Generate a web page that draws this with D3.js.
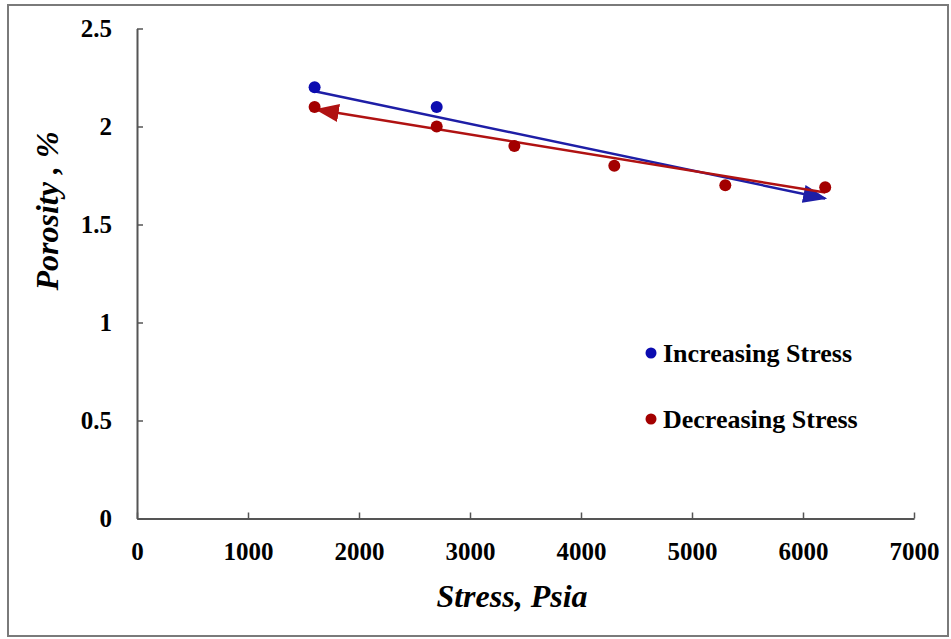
<!DOCTYPE html>
<html lang="en">
<head>
    <meta charset="UTF-8">
    <title>Porosity vs Stress</title>
    <script src="https://cdn.jsdelivr.net/npm/d3@7"></script>
    <style>
        body { margin: 0; background: #fff; }
        text { font-family: "Liberation Serif", "Times New Roman", serif; font-weight: bold; fill: #000; }
    </style>
</head>
<body>
<svg width="951" height="639"></svg>
<script>

    // data
    const increasingStress = [1600, 2700]
    const increasingPorosity = [2.2, 2.1]
    const decreasingStress = [1600, 2700, 3400, 4300, 5300, 6200]
    const decreasingPorosity = [2.1, 2.0, 1.9, 1.8, 1.7, 1.69]
    // trend arrows: start -> tip
    const increasingTrend = [[1600, 2.18], [6200, 1.633]]
    const decreasingTrend = [[6200, 1.663], [1620, 2.087]]

    const xTicks = [0, 1000, 2000, 3000, 4000, 5000, 6000, 7000]
    const yTicks = [0, 0.5, 1, 1.5, 2, 2.5]
    const seriesNames = ["Increasing Stress", "Decreasing Stress"]

    const blue = "#0c0cb0", blueLine = "#1e1ea6"
    const red = "#a30000", redLine = "#b01212"

    const svg = d3.select("svg")

    // outer frame
    svg.append("rect")
        .attr("x", 8).attr("y", 5)
        .attr("width", 940).attr("height", 631)
        .attr("fill", "none")
        .attr("stroke", "#7a7a7a")
        .attr("stroke-width", 2)

    const x = d3.scaleLinear().domain([0, 7000]).range([137, 914])
    const y = d3.scaleLinear().domain([0, 2.5]).range([518.5, 28.5])

    const xAxis = svg.append("g")
        .attr("transform", `translate(0,${y(0)})`)
        .call(d3.axisBottom(x).tickValues(xTicks).tickSizeInner(-6).tickSizeOuter(0).tickFormat(d3.format("d")))
    const yAxis = svg.append("g")
        .attr("transform", `translate(${x(0)},0)`)
        .call(d3.axisLeft(y).tickValues(yTicks).tickSizeInner(-6).tickSizeOuter(0).tickPadding(25).tickFormat(d3.format("")))

    for (const ax of [xAxis, yAxis]) {
        ax.select(".domain").attr("stroke", "#555").attr("stroke-width", 2)
        ax.selectAll(".tick line").attr("stroke", "#555").attr("stroke-width", 1.5)
        ax.selectAll("text").attr("font-size", 25).attr("font-family", null)
    }
    xAxis.selectAll("text").attr("dy", "0.71em").attr("y", 24)

    // arrow heads
    const defs = svg.append("defs")
    ;[["arrowBlue", blueLine], ["arrowRed", redLine]].forEach(([id, c]) => {
        defs.append("marker")
            .attr("id", id)
            .attr("markerUnits", "userSpaceOnUse")
            .attr("viewBox", "0 0 24 18")
            .attr("markerWidth", 24).attr("markerHeight", 18)
            .attr("refX", 22).attr("refY", 9)
            .attr("orient", "auto")
            .append("path")
            .attr("d", "M0,0 L24,9 L0,18 Z")
            .attr("fill", c)
    })

    const line = d3.line().x(d => x(d[0])).y(d => y(d[1]))

    svg.append("path")
        .attr("d", line(increasingTrend))
        .attr("stroke", blueLine).attr("stroke-width", 2.5).attr("fill", "none")
        .attr("marker-end", "url(#arrowBlue)")
    svg.append("path")
        .attr("d", line(decreasingTrend))
        .attr("stroke", redLine).attr("stroke-width", 2.5).attr("fill", "none")
        .attr("marker-end", "url(#arrowRed)")

    svg.append("g").selectAll("circle")
        .data(d3.zip(increasingStress, increasingPorosity))
        .join("circle")
        .attr("cx", d => x(d[0])).attr("cy", d => y(d[1]))
        .attr("r", 6).attr("fill", blue)
    svg.append("g").selectAll("circle")
        .data(d3.zip(decreasingStress, decreasingPorosity))
        .join("circle")
        .attr("cx", d => x(d[0])).attr("cy", d => y(d[1]))
        .attr("r", 6).attr("fill", red)

    // axis titles
    svg.append("text")
        .attr("x", 512).attr("y", 607)
        .attr("text-anchor", "middle")
        .attr("font-size", 32).attr("font-style", "italic")
        .text("Stress, Psia")
    svg.append("text")
        .attr("transform", "translate(58,211) rotate(-90)")
        .attr("text-anchor", "middle")
        .attr("font-size", 32).attr("font-style", "italic")
        .text("Porosity , %")

    // legend
    const legend = svg.append("g").selectAll("g")
        .data(seriesNames)
        .join("g")
        .attr("transform", (d, i) => `translate(651,${353 + i * 66})`)
    legend.append("circle").attr("r", 5.5).attr("fill", (d, i) => i ? red : blue)
    legend.append("text")
        .attr("x", 12).attr("y", 9)
        .attr("font-size", 26)
        .text(d => d)

</script>
</body>
</html>
